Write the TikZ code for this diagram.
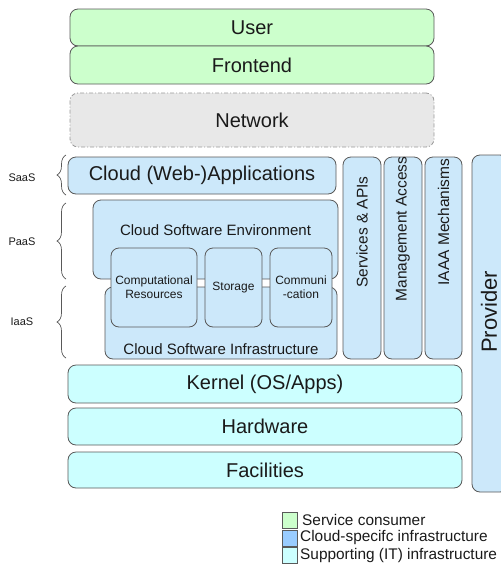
\documentclass[tikz,border=0pt]{standalone}
\usepackage{fontspec}
\setmainfont{Liberation Sans}
\usetikzlibrary{decorations.pathreplacing}
\definecolor{consumer}{HTML}{CCFFCC}
\definecolor{cloudspec}{HTML}{CCE8FA}
\definecolor{cloudleg}{HTML}{99CCFF}
\definecolor{support}{HTML}{CCFFFF}
\definecolor{netfill}{HTML}{E8E8E8}
\definecolor{edge}{HTML}{595959}
\definecolor{ink}{HTML}{1A1A1A}
\tikzset{
  layer/.style={draw=edge, line width=0.8pt, rounded corners=8pt, inner sep=0pt, outer sep=0pt, text=ink},
  big/.style={font=\fontsize{20}{24}\selectfont},
  mid/.style={font=\fontsize{15}{18}\selectfont},
  vert/.style={font=\fontsize{15.5}{18}\selectfont, text=ink, rotate=90, inner sep=0pt},
  small/.style={font=\fontsize{12}{14}\selectfont, align=center},
  tiny/.style={font=\fontsize{11}{13}\selectfont, text=ink},
  consumerbox/.style={layer, fill=consumer},
  cloudbox/.style={layer, fill=cloudspec},
  supportbox/.style={layer, fill=support},
  netbox/.style={layer, fill=netfill, draw=gray!80, dash pattern=on 4pt off 2pt on 1pt off 2pt},
  bracestyle/.style={draw=edge, line width=0.7pt, decorate, decoration={brace, amplitude=9pt}},
  legbox/.style={draw=edge, line width=0.6pt, minimum width=15pt, minimum height=16pt, inner sep=0pt},
  legtext/.style={font=\fontsize{15.4}{18}\selectfont, text=ink, anchor=west, inner sep=0pt}
}
\begin{document}
\begin{tikzpicture}[x=1pt, y=-1pt]
\useasboundingbox (0,0) rectangle (501,566);
\clip (0,0) rectangle (501,566);
% consumer
\node[consumerbox, big, minimum width=364pt, minimum height=37pt] (user) at (252,27.5) {User};
\node[consumerbox, big, minimum width=364pt, minimum height=38pt] (front) at (252,65) {Frontend};
\node[netbox, big, minimum width=364pt, minimum height=54pt] (net) at (252,120) {Network};
% cloud specific
\node[cloudbox, big, minimum width=268pt, minimum height=37pt] (apps) at (202,175.5) {Cloud (Web-)Applications};
\node[cloudbox, minimum width=245pt, minimum height=79pt] (env) at (215.5,239.5) {};
\node[cloudbox, minimum width=232pt, minimum height=72pt] (infra) at (221,323) {};
\node[mid, text=ink, inner sep=0pt] (envlbl) at (215.5,230) {Cloud Software Environment};
\node[mid, text=ink, inner sep=0pt] (infralbl) at (221,349) {Cloud Software Infrastructure};
\node[cloudbox, small, minimum width=86pt, minimum height=79pt] (comp) at (154,287.5) {Computational\\Resources};
\node[cloudbox, small, minimum width=57pt, minimum height=79pt] (stor) at (233.5,287.5) {Storage};
\node[cloudbox, small, minimum width=62pt, minimum height=79pt] (comm) at (301,287.5) {Communi\\-cation};
\node[cloudbox, minimum width=38pt, minimum height=202pt] (svc) at (362,258) {};
\node[cloudbox, minimum width=38pt, minimum height=202pt] (mgmt) at (403,258) {};
\node[cloudbox, minimum width=37pt, minimum height=202pt] (iaaa) at (443.5,258) {};
\node[vert] (svclbl) at (362,232) {Services \& APIs};
\node[vert] (mgmtlbl) at (403,229) {Management Access};
\node[vert] (iaaalbl) at (443.5,222) {IAAA Mechanisms};
\node[cloudbox, minimum width=36pt, minimum height=337pt] (prov) at (490,323.5) {};
\node[font=\fontsize{22}{26}\selectfont, text=ink, rotate=90, inner sep=0pt] (provlbl) at (489,312) {Provider};
% supporting
\node[supportbox, big, minimum width=394pt, minimum height=38pt] (kern) at (265,384) {Kernel (OS/Apps)};
\node[supportbox, big, minimum width=394pt, minimum height=37pt] (hw) at (265,426.5) {Hardware};
\node[supportbox, big, minimum width=394pt, minimum height=36pt] (fac) at (265,470) {Facilities};
% braces
\draw[bracestyle] (66,195) -- (66,155);
\draw[bracestyle] (66,279) -- (66,203);
\draw[bracestyle] (66,358) -- (66,286);
\node[tiny] (saas) at (22,178) {SaaS};
\node[tiny] (paas) at (22,242) {PaaS};
\node[tiny] (iaas) at (22,322) {IaaS};
% legend
\node[legbox, fill=consumer] (lg1) at (289.5,520.5) {};
\node[legbox, fill=cloudleg] (lg2) at (289.5,538) {};
\node[legbox, fill=support] (lg3) at (289.5,555.5) {};
\node[legtext] (lt1) at (302,520) {Service consumer};
\node[legtext] (lt2) at (300,538) {Cloud-specifc infrastructure};
\node[legtext] (lt3) at (300,556) {Supporting (IT) infrastructure};
\end{tikzpicture}
\end{document}
